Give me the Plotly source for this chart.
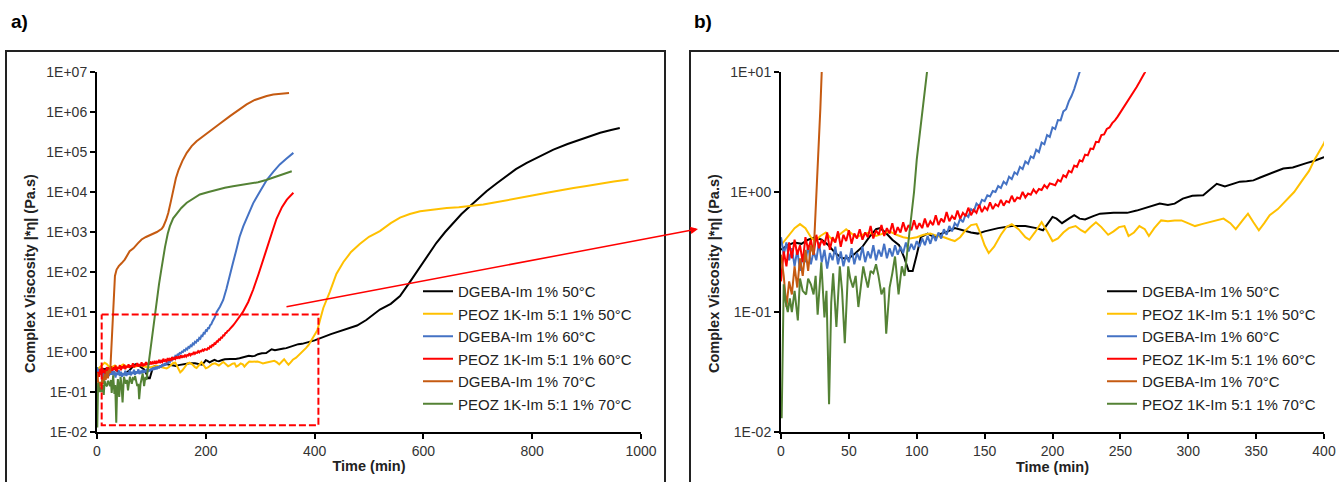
import plotly.graph_objects as go

W, H = 1339, 482
FONT = "Arial, Liberation Sans, sans-serif"

# ---------------- data ----------------
names = ["DGEBA-Im 1% 50°C", "PEOZ 1K-Im 5:1 1% 50°C", "DGEBA-Im 1% 60°C",
         "PEOZ 1K-Im 5:1 1% 60°C", "DGEBA-Im 1% 70°C", "PEOZ 1K-Im 5:1 1% 70°C"]
colors = ["#000000", "#FFC000", "#4472C4", "#FF0000", "#C55A11", "#548235"]

t_dg50 = [0, 5, 10, 15, 20, 25, 30, 35, 40, 45,
          50, 55, 60, 65, 70, 73, 77, 82, 87, 91,
          94, 97, 100, 103, 108, 113, 118, 123, 128, 133,
          140, 145, 150, 160, 170, 180, 188, 193, 197, 200,
          203, 207, 212, 216, 220, 224, 230, 235, 245, 255,
          262, 267, 273, 279, 285, 290, 296, 303, 311, 316,
          321, 327, 332, 338, 343, 348, 353, 358, 364, 370,
          377, 382, 387, 393, 400, 430, 453, 478, 495, 508,
          520, 540, 557, 575, 594, 610, 624, 640, 655, 670,
          686, 700, 716, 735, 753, 770, 790, 815, 839, 865,
          888, 905, 925, 945, 961]
v_dg50 = [0.33, 0.36, 0.38, 0.37, 0.40, 0.42, 0.40, 0.36, 0.31, 0.28,
          0.28, 0.31, 0.35, 0.42, 0.49, 0.50, 0.46, 0.40, 0.36, 0.28,
          0.22, 0.22, 0.30, 0.42, 0.45, 0.42, 0.45, 0.47, 0.50, 0.48,
          0.46, 0.45, 0.47, 0.50, 0.52, 0.52, 0.50, 0.48, 0.55, 0.62,
          0.60, 0.55, 0.60, 0.64, 0.60, 0.59, 0.63, 0.66, 0.67, 0.67,
          0.70, 0.73, 0.77, 0.80, 0.78, 0.80, 0.88, 0.93, 0.94, 1.05,
          1.17, 1.11, 1.16, 1.22, 1.23, 1.25, 1.32, 1.39, 1.48, 1.57,
          1.60, 1.68, 1.74, 1.82, 1.95, 2.8, 3.6, 4.6, 6.3, 8.7,
          11.5, 16, 25, 56, 138, 282, 537, 1000, 1700, 2820,
          4470, 6760, 10500, 16600, 25100, 37200, 53700, 79400, 115000, 158000,
          204000, 251000, 302000, 355000, 398000]

t_pz50 = [0, 5, 10, 14, 18, 22, 25, 29, 33, 36,
          39, 43, 48, 52, 55, 60, 65, 70, 75, 80,
          85, 90, 95, 100, 105, 110, 115, 120, 125, 128,
          132, 136, 140, 144, 147, 150, 153, 157, 162, 166,
          170, 175, 180, 183, 187, 192, 196, 200, 204, 208,
          212, 217, 221, 224, 228, 232, 236, 241, 245, 249,
          253, 256, 260, 264, 268, 271, 275, 280, 285, 290,
          295, 300, 305, 310, 315, 320, 326, 331, 335, 340,
          344, 348, 352, 356, 360, 366, 372, 378, 384, 389,
          393, 397, 400, 405, 410, 416, 428, 440, 453, 467,
          483, 500, 520, 540, 557, 575, 594, 620, 643, 665,
          686, 710, 728, 750, 778, 800, 827, 850, 876, 900,
          925, 950, 977]
v_pz50 = [0.36, 0.42, 0.50, 0.54, 0.50, 0.42, 0.39, 0.43, 0.46, 0.42,
          0.39, 0.44, 0.49, 0.45, 0.42, 0.44, 0.46, 0.43, 0.45, 0.47,
          0.44, 0.42, 0.41, 0.42, 0.44, 0.45, 0.43, 0.42, 0.40, 0.39,
          0.42, 0.48, 0.53, 0.54, 0.45, 0.36, 0.31, 0.35, 0.44, 0.51,
          0.54, 0.49, 0.42, 0.40, 0.46, 0.56, 0.47, 0.39, 0.41, 0.46,
          0.50, 0.52, 0.48, 0.46, 0.51, 0.56, 0.51, 0.44, 0.47, 0.51,
          0.52, 0.43, 0.46, 0.52, 0.49, 0.43, 0.50, 0.58, 0.57, 0.58,
          0.58, 0.55, 0.52, 0.54, 0.56, 0.58, 0.60, 0.55, 0.49, 0.58,
          0.66, 0.56, 0.48, 0.55, 0.64, 0.72, 0.85, 1.0, 1.25, 1.5,
          1.86, 2.2, 2.55, 3.5, 6.3, 12.6, 32, 89, 178, 316,
          500, 760, 1050, 1660, 2290, 2820, 3310, 3720, 3980, 4170,
          4470, 4900, 5370, 6030, 7080, 8130, 9550, 11000, 12600, 14100,
          16200, 18200, 20400]

t_dg60 = [0, 2, 4, 6, 8, 10, 12, 14, 16, 18,
          20, 22, 24, 26, 28, 30, 32, 34, 36, 38,
          40, 42, 44, 46, 48, 50, 52, 54, 56, 58,
          60, 62, 64, 66, 68, 70, 72, 74, 76, 78,
          80, 82, 84, 86, 88, 90, 92, 94, 96, 98,
          100, 102, 104, 106, 108, 110, 112, 114, 116, 118,
          120, 122, 124, 126, 128, 130, 132, 134, 136, 138,
          140, 142, 144, 146, 148, 150, 152, 154, 156, 158,
          160, 162, 164, 166, 168, 170, 172, 174, 176, 178,
          180, 182, 184, 186, 188, 190, 192, 194, 196, 198,
          200, 202, 204, 206, 208, 210, 212, 214, 216, 218,
          220, 226, 232, 238, 244, 250, 256, 262, 269, 278,
          287, 299, 312, 324, 336, 348, 361]
v_dg60 = [0.42, 0.30, 0.38, 0.27, 0.34, 0.24, 0.33, 0.22, 0.30, 0.26,
          0.36, 0.25, 0.32, 0.27, 0.38, 0.26, 0.33, 0.23, 0.31, 0.27,
          0.35, 0.25, 0.32, 0.24, 0.30, 0.26, 0.34, 0.25, 0.31, 0.27,
          0.35, 0.26, 0.32, 0.28, 0.36, 0.27, 0.33, 0.29, 0.37, 0.28,
          0.34, 0.29, 0.36, 0.30, 0.35, 0.31, 0.38, 0.32, 0.37, 0.33,
          0.39, 0.35, 0.41, 0.36, 0.43, 0.37, 0.44, 0.39, 0.46, 0.41,
          0.49, 0.44, 0.52, 0.47, 0.55, 0.52, 0.60, 0.56, 0.65, 0.62,
          0.72, 0.69, 0.80, 0.76, 0.86, 0.84, 0.94, 0.92, 1.02, 1.00,
          1.12, 1.08, 1.22, 1.16, 1.34, 1.28, 1.46, 1.40, 1.62, 1.55,
          1.80, 1.72, 1.98, 1.92, 2.25, 2.15, 2.58, 2.50, 2.98, 2.88,
          3.45, 3.35, 3.98, 3.95, 4.7, 4.9, 5.7, 6.3, 7.2, 8.4,
          10, 13.5, 20, 38, 75, 170, 350, 750, 1400, 2800,
          5200, 10000, 20000, 32000, 49000, 68000, 95000]

t_pz60 = [0, 2, 4, 6, 8, 10, 12, 14, 16, 18,
          20, 22, 24, 26, 28, 30, 32, 34, 36, 38,
          40, 42, 44, 46, 48, 50, 52, 54, 56, 58,
          60, 62, 64, 66, 68, 70, 72, 74, 76, 78,
          80, 82, 84, 86, 88, 90, 92, 94, 96, 98,
          100, 102, 104, 106, 108, 110, 112, 114, 116, 118,
          120, 122, 124, 126, 128, 130, 132, 134, 136, 138,
          140, 142, 144, 146, 148, 150, 152, 154, 156, 158,
          160, 162, 164, 166, 168, 170, 172, 174, 176, 178,
          180, 182, 184, 186, 188, 190, 192, 194, 196, 198,
          200, 202, 204, 206, 208, 210, 212, 214, 216, 218,
          220, 222, 224, 226, 228, 230, 232, 234, 236, 238,
          240, 242, 244, 246, 248, 250, 252, 254, 256, 258,
          260, 262, 264, 266, 268, 278, 287, 297, 306, 314,
          322, 330, 340, 349, 356, 361]
v_pz60 = [0.18, 0.32, 0.24, 0.38, 0.28, 0.40, 0.30, 0.36, 0.26, 0.42,
          0.33, 0.40, 0.30, 0.44, 0.34, 0.40, 0.36, 0.46, 0.33, 0.42,
          0.38, 0.47, 0.35, 0.44, 0.39, 0.48, 0.37, 0.45, 0.41, 0.49,
          0.40, 0.46, 0.42, 0.52, 0.41, 0.48, 0.44, 0.53, 0.43, 0.50,
          0.45, 0.55, 0.44, 0.51, 0.46, 0.56, 0.47, 0.53, 0.48, 0.58,
          0.49, 0.55, 0.50, 0.60, 0.51, 0.57, 0.53, 0.64, 0.53, 0.60,
          0.56, 0.68, 0.57, 0.63, 0.59, 0.70, 0.60, 0.67, 0.63, 0.74,
          0.64, 0.71, 0.67, 0.78, 0.68, 0.75, 0.71, 0.82, 0.72, 0.79,
          0.76, 0.86, 0.77, 0.84, 0.82, 0.93, 0.83, 0.90, 0.88, 1.00,
          0.90, 0.97, 0.95, 1.05, 0.98, 1.06, 1.04, 1.14, 1.08, 1.18,
          1.16, 1.14, 1.26, 1.22, 1.38, 1.33, 1.50, 1.46, 1.66, 1.62,
          1.84, 1.80, 2.05, 2.02, 2.30, 2.28, 2.62, 2.60, 2.98, 3.02,
          3.35, 3.45, 3.75, 3.95, 4.25, 4.6, 4.95, 5.4, 5.85, 6.3,
          6.9, 7.5, 8.2, 9.0, 9.9, 17.8, 36, 89, 204, 447,
          1000, 2140, 4170, 6460, 8300, 9550]

t_dg70 = [0, 2, 4, 6, 8, 10, 12, 14, 16, 18,
          20, 22, 24, 25, 26, 27, 28, 29, 30, 31,
          33, 36, 40, 45, 51, 60, 67, 75, 82, 90,
          100, 110, 119, 122, 127, 131, 136, 140, 145, 150,
          157, 165, 174, 183, 195, 208, 225, 245, 260, 275,
          290, 300, 312, 324, 340, 353]
v_dg70 = [0.30, 0.20, 0.11, 0.18, 0.14, 0.24, 0.16, 0.28, 0.20, 0.33,
          0.22, 0.36, 0.30, 0.5, 0.9, 1.5, 2.6, 5, 10, 18,
          80, 115, 140, 165, 204, 330, 390, 520, 650, 750,
          870, 1000, 1200, 1380, 2000, 3000, 6000, 11500, 22000, 36000,
          60000, 95000, 140000, 186000, 250000, 330000, 500000, 800000, 1100000, 1550000,
          2000000, 2250000, 2500000, 2750000, 2900000, 3000000]

t_pz70 = [0.5, 2, 3.5, 5, 6.5, 8, 10, 12.4, 14, 16,
          18.5, 20, 22, 24, 25.5, 27, 29.7, 32, 33.5, 35.4,
          37, 38.4, 40.8, 43.3, 45, 47, 49.5, 51, 53, 55,
          57, 59, 60.6, 62, 64, 66, 68, 70, 71.8, 74,
          76, 77.5, 80, 82, 84, 86.6, 89, 91, 92.8, 95.3,
          98, 100, 103, 106.4, 110, 114, 118, 121, 125, 130,
          134, 140, 147, 155, 165, 177, 189, 205, 220, 235,
          250, 265, 281, 296, 311, 323, 335, 347, 358]
v_pz70 = [0.013, 0.17, 0.12, 0.10, 0.13, 0.10, 0.15, 0.085, 0.19, 0.15,
          0.14, 0.19, 0.17, 0.14, 0.20, 0.095, 0.26, 0.09, 0.15, 0.017,
          0.12, 0.21, 0.075, 0.24, 0.15, 0.055, 0.24, 0.19, 0.16, 0.20,
          0.11, 0.18, 0.24, 0.20, 0.16, 0.22, 0.21, 0.25, 0.20, 0.14,
          0.16, 0.066, 0.16, 0.21, 0.29, 0.14, 0.24, 0.20, 0.31, 0.50,
          1.0, 1.86, 4.0, 10, 22, 50, 110, 200, 420, 900,
          1400, 2200, 3000, 4000, 5400, 7000, 8700, 10000, 11500, 12800,
          14000, 15000, 16200, 17500, 20000, 22500, 25700, 29000, 33000]

series_t = [t_dg50, t_pz50, t_dg60, t_pz60, t_dg70, t_pz70]
series_v = [v_dg50, v_pz50, v_dg60, v_pz60, v_dg70, v_pz70]

# zoomed region highlighted in panel a (time range, viscosity range)
zoom_box_t = [8.6, 407, 407, 8.6, 8.6]
zoom_box_v = [8.7, 8.7, 0.0148, 0.0148, 8.7]

ytick_vals_a = [1e-2, 1e-1, 1e0, 1e1, 1e2, 1e3, 1e4, 1e5, 1e6, 1e7]
ytick_text_a = ["1E-02", "1E-01", "1E+00", "1E+01", "1E+02", "1E+03",
                "1E+04", "1E+05", "1E+06", "1E+07"]
ytick_vals_b = [1e-2, 1e-1, 1e0, 1e1]
ytick_text_b = ["1E-02", "1E-01", "1E+00", "1E+01"]

# ---------------- figure ----------------
fig = go.Figure()
for name, col, t, v in zip(names, colors, series_t, series_v):
    fig.add_trace(go.Scatter(x=t, y=v, mode="lines", name=name,
                             line=dict(color=col, width=2),
                             xaxis="x", yaxis="y", legend="legend"))
for name, col, t, v in zip(names, colors, series_t, series_v):
    fig.add_trace(go.Scatter(x=t, y=v, mode="lines", name=name,
                             line=dict(color=col, width=2),
                             xaxis="x2", yaxis="y2", legend="legend2"))

fig.add_trace(go.Scatter(x=zoom_box_t, y=zoom_box_v, mode="lines",
                         line=dict(color="#FF0000", width=2, dash="7px,3px"),
                         showlegend=False, hoverinfo="skip",
                         xaxis="x", yaxis="y"))

tickfont = dict(family=FONT, size=14, color="#333333")
titlefont = dict(family=FONT, size=14.5, color="#222222")

common_x = dict(showline=True, linecolor="#000000", linewidth=2, ticks="outside",
                ticklen=5, tickwidth=1.5, tickcolor="#000000", showgrid=False,
                zeroline=False, tickfont=tickfont, mirror=False)
common_y = dict(showline=True, linecolor="#000000", linewidth=2, ticks="outside",
                ticklen=5, tickwidth=1.5, tickcolor="#000000", showgrid=False,
                zeroline=False, tickfont=tickfont, type="log", tickmode="array")

ydom = [1 - 432 / H, 1 - 72 / H]

fig.update_layout(
    width=W, height=H, autosize=False,
    margin=dict(l=0, r=0, t=0, b=0, autoexpand=False),
    paper_bgcolor="white", plot_bgcolor="white",
    font=dict(family=FONT, color="#222222"),
    xaxis=dict(domain=[97 / W, 641 / W], range=[0, 1000], tick0=0, dtick=200,
               anchor="y", title=dict(text="<b>Time (min)</b>", font=titlefont, standoff=3),
               **common_x),
    yaxis=dict(domain=ydom, range=[-2, 7], tickvals=ytick_vals_a, ticktext=ytick_text_a,
               anchor="x", **common_y),
    xaxis2=dict(domain=[781 / W, 1324 / W], range=[0, 400], tick0=0, dtick=50,
                anchor="y2", title=dict(text="<b>Time (min)</b>", font=titlefont, standoff=3),
                **common_x),
    yaxis2=dict(domain=ydom, range=[-2, 1], tickvals=ytick_vals_b, ticktext=ytick_text_b,
                anchor="x2", **common_y),
    legend=dict(x=418 / W, y=1 - 275 / H, xanchor="left", yanchor="top",
                bgcolor="rgba(0,0,0,0)", font=dict(family=FONT, size=15, color="#222222")),
    legend2=dict(x=1102 / W, y=1 - 275 / H, xanchor="left", yanchor="top",
                 bgcolor="rgba(0,0,0,0)", font=dict(family=FONT, size=15, color="#222222")),
    showlegend=True,
)

# panel frames
fig.add_shape(type="rect", xref="paper", yref="paper", x0=6 / W, x1=665 / W,
              y0=-0.05, y1=1 - 51 / H, line=dict(color="#222222", width=2),
              fillcolor="rgba(0,0,0,0)", layer="below")
fig.add_shape(type="rect", xref="paper", yref="paper", x0=690 / W, x1=1.05,
              y0=-0.05, y1=1 - 51 / H, line=dict(color="#222222", width=2),
              fillcolor="rgba(0,0,0,0)", layer="below")

ann = []
for lab, xp in (("a)", 9), ("b)", 692)):
    ann.append(dict(text="<b>" + lab + "</b>", x=xp / W, y=1 - 22 / H, xref="paper",
                    yref="paper", showarrow=False, xanchor="left", yanchor="middle",
                    font=dict(family=FONT, size=19, color="#000000")))
for xp in (30, 714):
    ann.append(dict(text="<b>Complex Viscosity |*η| (Pa.s)</b>", x=xp / W, y=1 - 274 / H,
                    xref="paper", yref="paper", showarrow=False, textangle=-90,
                    xanchor="center", yanchor="middle", font=titlefont))
# arrow from the zoom box to panel b
ann.append(dict(text="", x=698 / W, y=1 - 229 / H, xref="paper", yref="paper",
                showarrow=True, ax=285 - 698, ay=307 - 229, axref="pixel", ayref="pixel",
                arrowhead=2, arrowsize=1, arrowwidth=1.5, arrowcolor="#FF0000", standoff=0))
fig.update_layout(annotations=ann)

fig.write_html("out.html")
